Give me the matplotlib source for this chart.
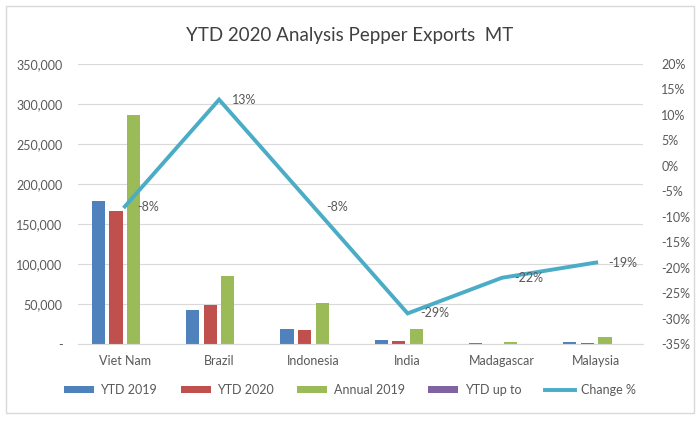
import numpy as np
import matplotlib.pyplot as plt
from matplotlib.ticker import FuncFormatter, MultipleLocator
from matplotlib.patches import Rectangle

plt.rcParams['font.family'] = ['Lato', 'DejaVu Sans']

# Data
countries = ['Viet Nam', 'Brazil', 'Indonesia', 'India', 'Madagascar', 'Malaysia']
ytd_2019 = [179000, 42500, 18700, 5400, 600, 2500]
ytd_2020 = [166000, 48400, 17900, 4200, 500, 1700]
annual_2019 = [286000, 84600, 51700, 18700, 3000, 8700]
ytd_up_to = [0, 0, 0, 0, 0, 0]
change_pct = [-8, 13, -8, -29, -22, -19]

series_names = ['YTD 2019', 'YTD 2020', 'Annual 2019', 'YTD up to']
series_vals = [ytd_2019, ytd_2020, annual_2019, ytd_up_to]
colors = ['#4F81BD', '#C0504D', '#9BBB59', '#8064A2']
line_color = '#4BACC6'
grid_color = '#D9D9D9'
text_color = '#595959'

fig = plt.figure(figsize=(7, 4.21), dpi=100)
ax = fig.add_axes([0.111, 0.183, 0.808, 0.665])
ax2 = ax.twinx()

x = np.arange(len(countries))
step = 0.186
width = 0.14
handles = []
for i, (name, vals, c) in enumerate(zip(series_names, series_vals, colors)):
    b = ax.bar(x + (i - 1.5) * step, vals, width, color=c, label=name, zorder=2)
    handles.append(b)

ln, = ax2.plot(x, change_pct, color=line_color, lw=2.8, label='Change %',
               solid_joinstyle='miter', zorder=3)
handles.append(ln)
for xi, v in zip(x, change_pct):
    ax2.annotate(f'{v}%', (xi, v), xytext=(9, 0), textcoords='offset points',
                 va='center', ha='left', fontsize=9, color=text_color)

ax.set_xlim(-0.5, len(countries) - 0.5)
ax.set_ylim(0, 350000)
ax.yaxis.set_major_locator(MultipleLocator(50000))
ax.yaxis.set_major_formatter(FuncFormatter(lambda v, _: '-' if v == 0 else f'{int(v):,}'))
ax2.set_ylim(-35, 20)
ax2.yaxis.set_major_locator(MultipleLocator(5))
ax2.yaxis.set_major_formatter(FuncFormatter(lambda v, _: f'{int(round(v))}%'))

ax.set_xticks(x)
ax.set_xticklabels(countries)
ax.grid(axis='y', color=grid_color, lw=0.8, zorder=0)
ax.set_axisbelow(True)
for a in (ax, ax2):
    for s in a.spines.values():
        s.set_visible(False)
    a.tick_params(length=0, colors=text_color, labelsize=9)
ax.spines['bottom'].set_visible(True)
ax.spines['bottom'].set_color(grid_color)
ax.tick_params(axis='y', pad=11)
ax.tick_params(axis='x', pad=8)
ax2.tick_params(axis='y', pad=13)

fig.suptitle('YTD 2020 Analysis Pepper Exports  MT', y=0.935, fontsize=13.5,
             color='#404040')

fig.legend(handles=handles, labels=series_names + ['Change %'], loc='center',
           bbox_to_anchor=(0.5, 0.074), ncol=5, frameon=False, fontsize=9,
           labelcolor=text_color, handlelength=2.4, handleheight=0.5,
           columnspacing=1.9, handletextpad=0.5)

fig.patches.append(Rectangle((0.008, 0.02), 0.984, 0.965, transform=fig.transFigure,
                             fill=False, edgecolor=grid_color, lw=1))

fig.savefig('out.png', dpi=100)
